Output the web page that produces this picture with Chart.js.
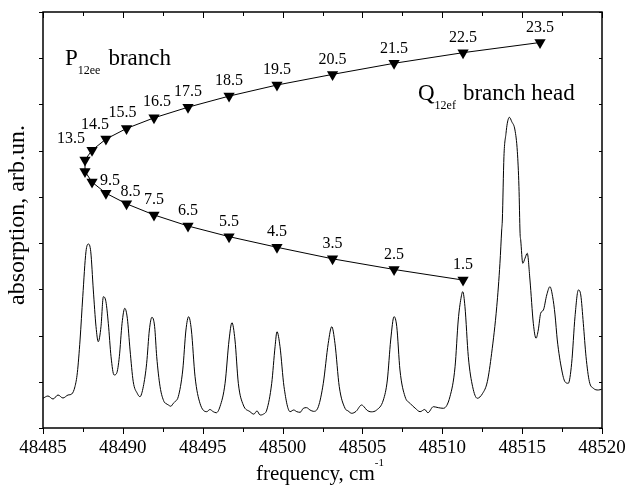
<!DOCTYPE html>
<html>
<head>
<meta charset="utf-8">
<script src="https://cdn.jsdelivr.net/npm/chart.js@4.4.0/dist/chart.umd.min.js"></script>
<style>
  html, body { margin: 0; padding: 0; background: #fff; }
</style>
</head>
<body>
<canvas id="chart" width="625" height="487"></canvas>
<script>
// measured spectrum (frequency in cm-1, absorption in arb. units)
const freq = [
  48485.00, 48485.31, 48485.63, 48485.94, 48486.25, 48486.57, 48486.80, 48487.00, 48487.15, 48487.32,
  48487.49, 48487.69, 48487.84, 48487.99, 48488.15, 48488.32, 48488.46, 48488.63, 48488.78, 48488.94,
  48489.09, 48489.26, 48489.45, 48489.61, 48489.78, 48489.95, 48490.12, 48490.28, 48490.45, 48490.65,
  48490.90, 48491.07, 48491.28, 48491.49, 48491.66, 48491.82, 48491.99, 48492.12, 48492.33, 48492.58,
  48492.70, 48492.85, 48493.00, 48493.16, 48493.30, 48493.47, 48493.75, 48493.95, 48494.12, 48494.29,
  48494.52, 48494.83, 48495.25, 48495.45, 48495.66, 48495.85, 48496.08, 48496.40, 48496.65, 48496.83,
  48497.02, 48497.23, 48497.54, 48497.96, 48498.20, 48498.40, 48498.59, 48498.80, 48499.01, 48499.32,
  48499.53, 48499.65, 48499.84, 48500.09, 48500.47, 48500.70, 48500.89, 48501.10, 48501.30, 48501.50,
  48501.72, 48501.95, 48502.24, 48502.55, 48502.86, 48503.08, 48503.28, 48503.55, 48503.91, 48504.10,
  48504.33, 48504.60, 48504.95, 48505.10, 48505.27, 48505.55, 48505.89, 48506.31, 48506.56, 48506.77,
  48506.98, 48507.15, 48507.35, 48507.67, 48507.98, 48508.30, 48508.61, 48508.90, 48509.10, 48509.44,
  48509.75, 48510.07, 48510.48, 48510.80, 48511.00, 48511.17, 48511.28, 48511.42, 48511.63, 48511.90,
  48512.19, 48512.53, 48512.82, 48513.09, 48513.41, 48513.61, 48513.72, 48513.76, 48513.86, 48513.99,
  48514.07, 48514.20, 48514.35, 48514.55, 48514.70, 48514.80, 48514.87, 48514.91, 48515.04, 48515.18,
  48515.32, 48515.49, 48515.70, 48515.87, 48516.01, 48516.16, 48516.33, 48516.54, 48516.74, 48516.91,
  48517.06, 48517.20, 48517.48, 48517.68, 48517.89, 48518.10, 48518.31, 48518.52, 48518.67, 48518.83,
  48519.00, 48519.21, 48519.46, 48519.77, 48519.98
];
const absorb = [
  0.643, 0.692, 0.627, 0.714, 0.649, 0.714, 0.736, 0.894, 1.196, 1.904,
  2.841, 3.814, 3.981, 3.814, 2.986, 2.192, 1.867, 2.192, 2.841, 2.733,
  2.265, 1.543, 1.147, 1.183, 1.543, 2.265, 2.590, 2.373, 1.688, 1.002,
  0.751, 0.677, 0.894, 1.400, 2.120, 2.395, 2.192, 1.543, 0.894, 0.569,
  0.530, 0.498, 0.470, 0.534, 0.580, 0.677, 1.255, 2.120, 2.408, 2.120,
  1.110, 0.534, 0.353, 0.400, 0.353, 0.330, 0.461, 0.967, 1.904, 2.278,
  1.904, 0.967, 0.498, 0.353, 0.300, 0.370, 0.281, 0.300, 0.389, 0.967,
  1.759, 2.083, 1.759, 0.894, 0.353, 0.390, 0.353, 0.340, 0.426, 0.440,
  0.389, 0.360, 0.461, 0.967, 1.833, 2.192, 1.833, 0.894, 0.426, 0.370,
  0.318, 0.360, 0.498, 0.460, 0.389, 0.350, 0.389, 0.606, 1.039, 1.904,
  2.408, 2.192, 1.255, 0.677, 0.534, 0.430, 0.353, 0.400, 0.330, 0.461,
  0.440, 0.426, 0.677, 1.326, 2.337, 2.806, 2.949, 2.624, 1.543, 0.894,
  0.643, 0.751, 1.002, 1.616, 2.624, 3.563, 4.284, 4.500, 5.870, 6.376,
  6.592, 6.722, 6.627, 6.447, 5.978, 5.221, 4.212, 4.068, 3.563, 3.672,
  3.780, 3.202, 2.265, 1.941, 2.120, 2.482, 2.553, 2.878, 3.057, 2.841,
  2.445, 1.904, 1.255, 1.002, 0.967, 1.400, 2.408, 2.986, 2.878, 2.265,
  1.543, 1.002, 0.859, 0.822, 0.837
];

// P12ee branch line positions (Fortrat diagram)
const jValues = ['1.5', '2.5', '3.5', '4.5', '5.5', '6.5', '7.5', '8.5', '9.5', '10.5', '11.5', '12.5',
  '13.5', '14.5', '15.5', '16.5', '17.5', '18.5', '19.5', '20.5', '21.5', '22.5', '23.5'];
const fortFreq = [
  48511.30, 48506.98, 48503.13, 48499.65, 48496.65, 48494.08, 48491.95, 48490.23, 48488.94, 48488.07,
  48487.63, 48487.63, 48488.07, 48488.94, 48490.23, 48491.95, 48494.08, 48496.65, 48499.65, 48503.13,
  48506.98, 48511.30, 48516.12
];
const fortLevel = [
  3.20, 3.43, 3.66, 3.91, 4.14, 4.37, 4.61, 4.85, 5.08, 5.32,
  5.55, 5.80, 6.01, 6.25, 6.48, 6.71, 6.94, 7.18, 7.42, 7.65,
  7.89, 8.12, 8.34
];
// J labels left out on the plot
const hiddenJ = ['10.5', '11.5', '12.5'];

const xTicks = [48485, 48490, 48495, 48500, 48505, 48510, 48515, 48520];

const serif = '"Liberation Serif", "Times New Roman", serif';

// label nudges (px) for the crowded turn of the branch
const labelShift = {
  '13.5': [-21, -11], '14.5': [-11, -14], '15.5': [-4, -16], '16.5': [3, -16],
  '9.5': [4, -12], '8.5': [4, -12]
};

function richText(ctx, parts, x, y) {
  let cx = x;
  parts.forEach(p => {
    ctx.font = p.size + 'px ' + serif;
    ctx.fillText(p.t, cx, y + (p.dy || 0));
    cx += ctx.measureText(p.t).width + (p.gap || 0);
  });
}

const decor = {
  id: 'decor',
  afterDraw(chart) {
    const ctx = chart.ctx;
    const a = chart.chartArea;
    const x = chart.scales.x, y = chart.scales.y;
    ctx.save();
    ctx.strokeStyle = '#000';
    ctx.fillStyle = '#000';

    // frame
    ctx.lineWidth = 1.5;
    ctx.strokeRect(a.left, a.top, a.right - a.left, a.bottom - a.top);

    // ticks: x every 2.5 (major at 5), y every 1
    ctx.lineWidth = 1;
    ctx.beginPath();
    for (let v = x.min; v <= x.max + 1e-6; v += 2.5) {
      const px = Math.round(x.getPixelForValue(v)) + 0.5;
      const len = Math.abs((v - x.min) % 5) < 1e-6 ? 6 : 4;
      ctx.moveTo(px, a.bottom); ctx.lineTo(px, a.bottom + len);
      ctx.moveTo(px, a.top); ctx.lineTo(px, a.top + len);
    }
    for (let v = y.min; v <= y.max + 1e-6; v += 1) {
      const py = Math.round(y.getPixelForValue(v)) + 0.5;
      ctx.moveTo(a.left, py); ctx.lineTo(a.left - 4, py);
      ctx.moveTo(a.right, py); ctx.lineTo(a.right - 3, py);
    }
    ctx.stroke();

    // J labels over the triangles
    ctx.font = '16px ' + serif;
    ctx.textAlign = 'center';
    ctx.textBaseline = 'middle';
    const meta = chart.getDatasetMeta(1);
    jValues.forEach((j, i) => {
      if (hiddenJ.includes(j)) return;
      const pt = meta.data[i];
      const s = labelShift[j] || [0, -15];
      ctx.fillText(j, pt.x + s[0], pt.y + s[1]);
    });

    // branch names
    ctx.textAlign = 'left';
    ctx.textBaseline = 'alphabetic';
    richText(ctx, [{t: 'P', size: 23}, {t: '12ee', size: 12, dy: 9, gap: 8}, {t: 'branch', size: 23}], 65, 65);
    richText(ctx, [{t: 'Q', size: 23}, {t: '12ef', size: 12, dy: 9, gap: 7}, {t: 'branch head', size: 23}], 418, 100);

    // axis titles
    richText(ctx, [{t: 'frequency, cm', size: 21}, {t: '-1', size: 11, dy: -14}], 256, 480);
    ctx.translate(24, 215);
    ctx.rotate(-Math.PI / 2);
    ctx.textAlign = 'center';
    ctx.font = '24px ' + serif;
    ctx.fillText('absorption, arb.un.', 0, 0);
    ctx.restore();
  }
};

new Chart(document.getElementById('chart'), {
  type: 'scatter',
  data: {
    datasets: [
      {
        data: freq.map((f, i) => ({x: f, y: absorb[i]})),
        showLine: true,
        borderColor: '#000',
        borderWidth: 1,
        pointRadius: 0,
        cubicInterpolationMode: 'monotone'
      },
      {
        data: fortFreq.map((f, i) => ({x: f, y: fortLevel[i]})),
        showLine: true,
        borderColor: '#000',
        borderWidth: 1,
        backgroundColor: '#000',
        pointStyle: 'triangle',
        rotation: 180,
        pointRadius: 6.5,
        pointBorderWidth: 0
      }
    ]
  },
  options: {
    responsive: false,
    animation: false,
    events: [],
    layout: { padding: { top: 12, right: 23, left: 0, bottom: 0 } },
    plugins: { legend: { display: false }, tooltip: { enabled: false } },
    scales: {
      x: {
        type: 'linear',
        position: 'bottom',
        min: 48485,
        max: 48520,
        afterBuildTicks: s => { s.ticks = xTicks.map(v => ({value: v})); },
        ticks: {
          font: { family: serif, size: 19 },
          color: '#000',
          padding: 9,
          maxRotation: 0,
          callback: v => String(v)
        },
        grid: { display: false, drawTicks: false },
        border: { display: false },
        afterFit: s => { s.height = 59; s.paddingLeft = 0; s.paddingRight = 0; }
      },
      y: {
        min: 0,
        max: 9,
        ticks: { display: false, stepSize: 1 },
        grid: { display: false, drawTicks: false },
        border: { display: false },
        afterFit: s => { s.width = 43; }
      }
    }
  },
  plugins: [decor]
});
</script>
</body>
</html>
